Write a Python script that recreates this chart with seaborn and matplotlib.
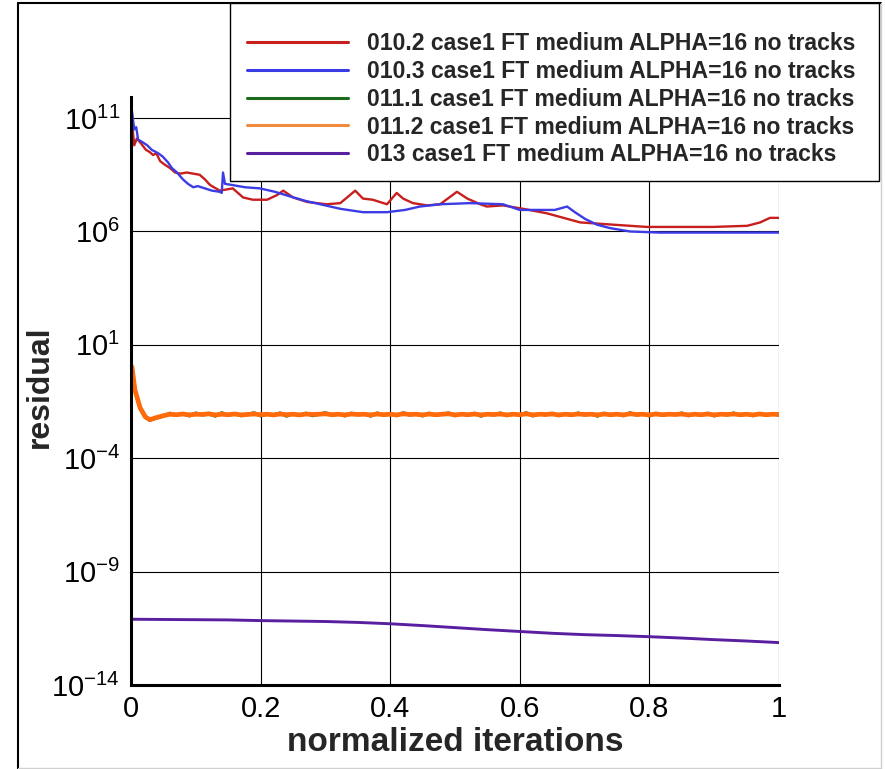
import numpy as np
import pandas as pd
import seaborn as sns
import matplotlib.pyplot as plt
from matplotlib.lines import Line2D
from matplotlib.patches import Rectangle
from matplotlib.ticker import FixedLocator, MultipleLocator, NullLocator, FuncFormatter

# legend texts and colours
labels = ['010.2 case1 FT medium ALPHA=16 no tracks',
          '010.3 case1 FT medium ALPHA=16 no tracks',
          '011.1 case1 FT medium ALPHA=16 no tracks',
          '011.2 case1 FT medium ALPHA=16 no tracks',
          '013 case1 FT medium ALPHA=16 no tracks']
colors = ['#c81e1e', '#3c3ce6', '#1c6a1c', '#ff6a0a', '#5a1ea0']
legend_colors = ['#c81e1e', '#3c3ce6', '#1c6a1c', '#f08a3c', '#5a1ea0']

# 010.2 (values are log10 of residual)
red_x = [0.0015, 0.005, 0.009, 0.015, 0.023, 0.029, 0.034, 0.039, 0.045, 0.052,
         0.060, 0.068, 0.076, 0.086, 0.096, 0.106, 0.114, 0.122, 0.137, 0.157,
         0.173, 0.188, 0.210, 0.225, 0.235, 0.250, 0.272, 0.302, 0.323, 0.346,
         0.358, 0.373, 0.395, 0.410, 0.420, 0.435, 0.457, 0.477, 0.503, 0.519,
         0.539, 0.549, 0.574, 0.605, 0.642, 0.693, 0.744, 0.796, 0.847, 0.898,
         0.951, 0.971, 0.986, 1.0]
red_log = [10.8, 9.8, 10.1, 9.9, 9.6, 9.5, 9.37, 9.45, 9.1, 8.95,
           8.8, 8.6, 8.55, 8.6, 8.55, 8.5, 8.3, 8.05, 7.8, 7.9,
           7.5, 7.4, 7.4, 7.6, 7.8, 7.5, 7.3, 7.2, 7.25, 7.8,
           7.45, 7.4, 7.2, 7.7, 7.45, 7.25, 7.15, 7.2, 7.75, 7.45,
           7.2, 7.1, 7.15, 7.0, 6.8, 6.4, 6.3, 6.2, 6.2, 6.2,
           6.25, 6.4, 6.6, 6.6]

# 010.3
blue_x = [0.0015, 0.005, 0.008, 0.011, 0.017, 0.025, 0.032, 0.042, 0.049, 0.057,
          0.063, 0.071, 0.080, 0.088, 0.096, 0.103, 0.114, 0.125, 0.137, 0.140,
          0.142, 0.145, 0.156, 0.176, 0.199, 0.222, 0.245, 0.269, 0.292, 0.323,
          0.358, 0.395, 0.423, 0.446, 0.477, 0.523, 0.574, 0.600, 0.631, 0.654,
          0.673, 0.685, 0.701, 0.719, 0.739, 0.770, 0.816, 0.878, 1.0]
blue_log = [11.3, 10.5, 10.6, 10.05, 9.95, 9.8, 9.6, 9.45, 9.3, 9.05,
            8.8, 8.6, 8.3, 8.1, 7.95, 8.0, 7.9, 7.8, 7.75, 7.7,
            8.6, 8.1, 8.05, 7.95, 7.9, 7.75, 7.55, 7.35, 7.2, 7.0,
            6.85, 6.85, 6.95, 7.1, 7.2, 7.25, 7.2, 6.95, 6.95, 6.95,
            7.1, 6.85, 6.55, 6.3, 6.15, 6.0, 5.95, 5.95, 5.95]

# 011.1 and 011.2
flat_x = [0.0015, 0.006, 0.014, 0.022, 0.029, 0.040, 0.049,
          0.06, 0.07, 0.08, 0.09, 0.10, 0.11, 0.12, 0.13, 0.14, 0.15,
          0.16, 0.17, 0.18, 0.19, 0.20, 0.21, 0.22, 0.23, 0.24, 0.25,
          0.26, 0.27, 0.28, 0.29, 0.30, 0.31, 0.32, 0.33, 0.34, 0.35,
          0.36, 0.37, 0.38, 0.39, 0.40, 0.41, 0.42, 0.43, 0.44, 0.45,
          0.46, 0.47, 0.48, 0.49, 0.50, 0.51, 0.52, 0.53, 0.54, 0.55,
          0.56, 0.57, 0.58, 0.59, 0.60, 0.61, 0.62, 0.63, 0.64, 0.65,
          0.66, 0.67, 0.68, 0.69, 0.70, 0.71, 0.72, 0.73, 0.74, 0.75,
          0.76, 0.77, 0.78, 0.79, 0.80, 0.81, 0.82, 0.83, 0.84, 0.85,
          0.86, 0.87, 0.88, 0.89, 0.90, 0.91, 0.92, 0.93, 0.94, 0.95,
          0.96, 0.97, 0.98, 0.99, 1.0]
green_log = [-0.05, -1.0, -1.8, -2.2, -2.32, -2.22, -2.15,
             -2.02, -2.1, -2.04, -2.13, -2.01, -2.09, -2.05, -2.14, -2.0, -2.1,
             -2.03, -2.12, -2.06, -2.0, -2.13, -2.05, -2.09, -2.01, -2.14, -2.04,
             -2.1, -2.02, -2.12, -2.06, -2.0, -2.11, -2.04, -2.13, -2.02, -2.08,
             -2.05, -2.14, -2.01, -2.1, -2.04, -2.12, -2.0, -2.09, -2.05, -2.13,
             -2.02, -2.11, -2.06, -2.01, -2.12, -2.04, -2.1, -2.02, -2.14, -2.05,
             -2.09, -2.01, -2.12, -2.04, -2.1, -2.0, -2.13, -2.05, -2.08, -2.02,
             -2.12, -2.04, -2.11, -2.01, -2.09, -2.05, -2.14, -2.02, -2.1, -2.04,
             -2.12, -2.0, -2.09, -2.05, -2.13, -2.02, -2.11, -2.04, -2.08, -2.01,
             -2.12, -2.05, -2.1, -2.02, -2.13, -2.04, -2.09, -2.01, -2.11, -2.05,
             -2.12, -2.03, -2.1, -2.05, -2.09]
orange_log = [0.03, -0.98, -1.77, -2.17, -2.3, -2.2, -2.13,
              -2.06, -2.08, -2.05, -2.09, -2.06, -2.07, -2.04, -2.09, -2.06, -2.08,
              -2.05, -2.09, -2.07, -2.05, -2.08, -2.06, -2.09, -2.05, -2.08, -2.06,
              -2.09, -2.05, -2.07, -2.06, -2.04, -2.08, -2.06, -2.09, -2.05, -2.07,
              -2.06, -2.09, -2.05, -2.08, -2.06, -2.09, -2.04, -2.07, -2.06, -2.09,
              -2.05, -2.08, -2.06, -2.04, -2.09, -2.06, -2.08, -2.05, -2.09, -2.06,
              -2.07, -2.05, -2.09, -2.06, -2.08, -2.04, -2.09, -2.06, -2.07, -2.05,
              -2.09, -2.06, -2.08, -2.05, -2.07, -2.06, -2.09, -2.05, -2.08, -2.06,
              -2.09, -2.04, -2.07, -2.06, -2.09, -2.05, -2.08, -2.06, -2.07, -2.05,
              -2.09, -2.06, -2.08, -2.05, -2.09, -2.06, -2.07, -2.05, -2.08, -2.06,
              -2.09, -2.05, -2.08, -2.06, -2.07]

# 013
purple_x = [0.0, 0.05, 0.1, 0.15, 0.2, 0.25, 0.3, 0.35, 0.4, 0.45,
            0.5, 0.55, 0.6, 0.65, 0.7, 0.75, 0.8, 0.85, 0.9, 0.95, 1.0]
purple_log = [-11.1, -11.11, -11.12, -11.13, -11.16, -11.18, -11.2, -11.24, -11.3, -11.38,
              -11.47, -11.56, -11.64, -11.72, -11.78, -11.82, -11.87, -11.93, -12.0, -12.06, -12.13]

ytick_exp = [-14, -9, -4, 1, 6, 11]
xticks = [0, 0.2, 0.4, 0.6, 0.8, 1.0]

sns.set_style('white')
plt.rcParams['font.family'] = ['Liberation Sans', 'DejaVu Sans']
plt.rcParams['mathtext.fontset'] = 'custom'
plt.rcParams['mathtext.rm'] = 'Liberation Sans'
plt.rcParams['mathtext.it'] = 'Liberation Sans'

fig = plt.figure(figsize=(8.85, 7.69), dpi=100)
ax = fig.add_axes([131/885, 84/769, 648/885, 588/769])
ax.set_yscale('log')

series = [(red_x, red_log, 0, 1.7), (blue_x, blue_log, 1, 1.7),
          (flat_x, green_log, 2, 2.4), (flat_x, orange_log, 3, 3.4),
          (purple_x, purple_log, 4, 2.1)]
for xs, logs, i, lw in series:
    df = pd.DataFrame({'x': xs, 'y': 10.0 ** np.array(logs)})
    sns.lineplot(data=df, x='x', y='y', ax=ax, color=colors[i], lw=lw,
                 estimator=None, sort=False)

ax.set_xlim(0, 1)
ax.set_ylim(1e-14, 10 ** 11.93)
ax.xaxis.set_major_locator(FixedLocator(xticks))
ax.xaxis.set_minor_locator(MultipleLocator(0.05))
ax.xaxis.set_major_formatter(FuncFormatter(lambda v, p: '%g' % v))
ax.yaxis.set_major_locator(FixedLocator([10.0 ** e for e in ytick_exp]))
ax.yaxis.set_minor_locator(NullLocator())
ax.yaxis.set_major_formatter(FuncFormatter(lambda v, p: '10$^{%d}$' % round(np.log10(v))))

ax.grid(True, which='major', color='black', lw=0.8)
ax.set_axisbelow(True)
for s in ['top', 'right']:
    ax.spines[s].set_visible(False)
for s in ['left', 'bottom']:
    ax.spines[s].set_linewidth(2.2)
    ax.spines[s].set_color('black')

ax.tick_params(axis='both', which='major', direction='in', length=11, width=2.2,
               color='black', labelcolor='black')
ax.tick_params(axis='x', which='major', pad=7, labelsize=21)
ax.tick_params(axis='y', which='major', pad=8, labelsize=21)
ax.tick_params(axis='x', which='minor', direction='in', length=6, width=1, color='black')

ax.set_xlabel('normalized iterations', fontsize=24, fontweight='bold', labelpad=3)
ax.set_ylabel('residual', fontsize=23, fontweight='bold', labelpad=3)
ax.yaxis.set_label_coords(-0.117, 0.508)

# legend box
fig.patches.append(Rectangle((230/885, 1 - 181/769), 649/885, 178/769,
                             transform=fig.transFigure, facecolor='white',
                             edgecolor='black', lw=1.0, zorder=5))
handles = [Line2D([], [], color=c, lw=2.2) for c in legend_colors]
leg = fig.legend(handles, labels, loc='upper left', bbox_to_anchor=(247/885, 1 - 32/769),
                 frameon=False, borderpad=0, borderaxespad=0, handlelength=4.4,
                 handletextpad=0.8, labelspacing=0.21,
                 prop={'family': 'Liberation Sans', 'weight': 'bold', 'size': 16.6})
leg.set_zorder(6)

# outer frame
fig.add_artist(Line2D([18/885, 18/885], [0, 1 - 3/769], transform=fig.transFigure, color='black', lw=1.5))
fig.add_artist(Line2D([18/885, 881/885], [1 - 3/769, 1 - 3/769], transform=fig.transFigure, color='black', lw=1.5))
fig.add_artist(Line2D([881/885, 881/885], [0, 1 - 3/769], transform=fig.transFigure, color='#d0d0d0', lw=1.0))
fig.add_artist(Line2D([18/885, 881/885], [1/769, 1/769], transform=fig.transFigure, color='#d0d0d0', lw=1.0))

fig.savefig('out.png', dpi=100)
